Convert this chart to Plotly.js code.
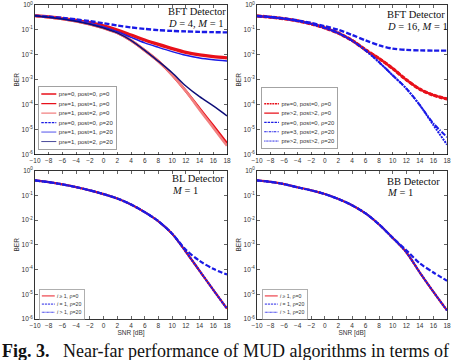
<!DOCTYPE html>
<html>
<head>
<meta charset="utf-8">
<script src="https://cdn.plot.ly/plotly-3.0.1.min.js"></script>
<style>
  html, body { margin: 0; padding: 0; background: #ffffff; }
  #chart { width: 474px; height: 360px; }
</style>
</head>
<body>
<div id="chart"></div>
<script>
// ---------------- data ----------------
var snr = [-10, -8, -6, -4, -2, 0, 2, 4, 6, 8, 10, 12, 14, 16, 18];
var snrTicks = [-10, -8, -6, -4, -2, 0, 2, 4, 6, 8, 10, 12, 14, 16, 18];
var berTickVals = [1e-6, 1e-5, 1e-4, 1e-3, 1e-2, 1e-1, 1];
var berTickText = ['10<sup>-6</sup>', '10<sup>-5</sup>', '10<sup>-4</sup>', '10<sup>-3</sup>', '10<sup>-2</sup>', '10<sup>-1</sup>', '10<sup>0</sup>'];

// Panel 1: BFT detector, D = 4, M = 1
var bft4_pre0_post0_rho0  = [0.372, 0.331, 0.288, 0.240, 0.195, 0.145, 0.100, 0.0631, 0.0398, 0.0263, 0.0178, 0.0126, 0.0100, 0.00851, 0.00759];
var bft4_pre1_post1_rho0  = [0.372, 0.324, 0.275, 0.224, 0.170, 0.120, 0.0759, 0.0380, 0.0151, 0.00550, 0.00158, 3.55e-4, 7.08e-5, 1.41e-5, 2.82e-6];
var bft4_pre1_post2_rho0  = [0.372, 0.324, 0.275, 0.224, 0.170, 0.120, 0.0759, 0.0380, 0.0151, 0.00550, 0.00158, 3.55e-4, 6.31e-5, 1.20e-5, 2.24e-6];
var bft4_pre0_post0_rho20 = [0.372, 0.339, 0.302, 0.263, 0.224, 0.186, 0.151, 0.126, 0.110, 0.0977, 0.0912, 0.0871, 0.0832, 0.0813, 0.0794];
var bft4_pre1_post1_rho20 = [0.372, 0.324, 0.275, 0.229, 0.182, 0.132, 0.0851, 0.0501, 0.0302, 0.0200, 0.0135, 0.00955, 0.00741, 0.00631, 0.00562];
var bft4_pre1_post2_rho20 = [0.372, 0.324, 0.275, 0.224, 0.170, 0.120, 0.0759, 0.0380, 0.0151, 0.00550, 0.00191, 5.62e-4, 2.09e-4, 8.91e-5, 3.55e-5];

// Panel 2: BFT detector, D = 16, M = 1
var bft16_pre0_post0_rho0  = [0.363, 0.324, 0.282, 0.229, 0.174, 0.120, 0.0741, 0.0380, 0.0158, 0.00708, 0.00282, 0.00100, 4.17e-4, 2.40e-4, 1.70e-4];
var bft16_pre2_post2_rho0  = [0.363, 0.324, 0.282, 0.229, 0.174, 0.120, 0.0741, 0.0380, 0.0158, 0.00708, 0.00282, 0.00100, 4.17e-4, 2.40e-4, 1.70e-4];
var bft16_pre0_post0_rho20 = [0.363, 0.331, 0.288, 0.240, 0.191, 0.141, 0.100, 0.0631, 0.0380, 0.0240, 0.0178, 0.0158, 0.0151, 0.0148, 0.0148];
var bft16_pre3_post2_rho20 = [0.363, 0.324, 0.282, 0.229, 0.174, 0.120, 0.0741, 0.0372, 0.0151, 0.00501, 0.00151, 4.47e-4, 9.55e-5, 1.78e-5, 5.01e-6];
var bft16_pre2_post2_rho20 = [0.363, 0.324, 0.282, 0.229, 0.174, 0.120, 0.0741, 0.0372, 0.0151, 0.00501, 0.00151, 4.47e-4, 9.55e-5, 1.51e-5, 2.51e-6];

// Panel 3: BL detector, M = 1
var bl_i_ge1_rho0  = [0.398, 0.339, 0.275, 0.214, 0.158, 0.112, 0.0741, 0.0427, 0.0209, 0.00891, 0.00282, 5.25e-4, 8.91e-5, 1.51e-5, 2.63e-6];
var bl_i_eq1_rho20 = [0.398, 0.339, 0.275, 0.214, 0.158, 0.112, 0.0741, 0.0427, 0.0209, 0.00891, 0.00282, 6.31e-4, 2.24e-4, 1.07e-4, 6.31e-5];
var bl_i_gt1_rho20 = [0.398, 0.339, 0.275, 0.214, 0.158, 0.112, 0.0741, 0.0427, 0.0209, 0.00891, 0.00282, 5.25e-4, 8.91e-5, 1.51e-5, 2.63e-6];

// Panel 4: BB detector, M = 1
var bb_i_ge1_rho0  = [0.398, 0.347, 0.282, 0.209, 0.158, 0.112, 0.0708, 0.0398, 0.0186, 0.00661, 0.00191, 5.01e-4, 7.59e-5, 1.26e-5, 2.24e-6];
var bb_i_eq1_rho20 = [0.398, 0.347, 0.282, 0.209, 0.158, 0.112, 0.0708, 0.0398, 0.0186, 0.00661, 0.00191, 6.03e-4, 1.78e-4, 7.59e-5, 3.55e-5];
var bb_i_gt1_rho20 = [0.398, 0.347, 0.282, 0.209, 0.158, 0.112, 0.0708, 0.0398, 0.0186, 0.00661, 0.00191, 5.01e-4, 7.59e-5, 1.26e-5, 2.24e-6];

// ---------------- styles ----------------
var RED = '#e8101a', LRED = '#f28080', BLUE = '#1a1ae6', NAVY = '#0d0d78';
var SANS = 'Liberation Sans, Arial, sans-serif';
var SERIF = 'Liberation Serif, Times New Roman, serif';

function tr(y, name, xa, ya, leg, color, width, dash) {
  return {
    x: snr, y: y, name: name, xaxis: xa, yaxis: ya, legend: leg,
    type: 'scatter', mode: 'lines',
    line: {color: color, width: width, dash: dash || 'solid', shape: 'spline', smoothing: 0.8}
  };
}

var rho = '\u03c1';
var traces = [
  tr(bft4_pre0_post0_rho0,  'pre=0, post=0, ' + rho + '=0',  'x', 'y', 'legend', RED, 3.2),
  tr(bft4_pre1_post1_rho0,  'pre=1, post=1, ' + rho + '=0',  'x', 'y', 'legend', RED, 2.6),
  tr(bft4_pre1_post2_rho0,  'pre=1, post=2, ' + rho + '=0',  'x', 'y', 'legend', LRED, 2.6),
  tr(bft4_pre0_post0_rho20, 'pre=0, post=0, ' + rho + '=20', 'x', 'y', 'legend', BLUE, 2.4, '5px,2px'),
  tr(bft4_pre1_post1_rho20, 'pre=1, post=1, ' + rho + '=20', 'x', 'y', 'legend', BLUE, 1.5),
  tr(bft4_pre1_post2_rho20, 'pre=1, post=2, ' + rho + '=20', 'x', 'y', 'legend', NAVY, 1.5),

  tr(bft16_pre0_post0_rho0,  'pre=0, post=0, ' + rho + '=0',  'x2', 'y2', 'legend2', RED, 3.2, '4px,1.5px'),
  tr(bft16_pre2_post2_rho0,  'pre>2, post>2, ' + rho + '=0',  'x2', 'y2', 'legend2', RED, 2.4),
  tr(bft16_pre0_post0_rho20, 'pre=0, post=0, ' + rho + '=20', 'x2', 'y2', 'legend2', BLUE, 2.4, '5px,2px'),
  tr(bft16_pre3_post2_rho20, 'pre=3, post=2, ' + rho + '=20', 'x2', 'y2', 'legend2', BLUE, 2.0, '5px,1.5px,1.5px,1.5px'),
  tr(bft16_pre2_post2_rho20, 'pre>2, post>2, ' + rho + '=20', 'x2', 'y2', 'legend2', BLUE, 2.0, '2px,1px'),

  tr(bl_i_ge1_rho0,  '<i>i</i> \u2265 1, ' + rho + '=0',  'x3', 'y3', 'legend3', RED, 2.2),
  tr(bl_i_eq1_rho20, '<i>i</i> = 1, ' + rho + '=20', 'x3', 'y3', 'legend3', BLUE, 2.2, '5px,2px'),
  tr(bl_i_gt1_rho20, '<i>i</i> > 1, ' + rho + '=20', 'x3', 'y3', 'legend3', BLUE, 2.2, '2px,1px'),

  tr(bb_i_ge1_rho0,  '<i>i</i> \u2265 1, ' + rho + '=0',  'x4', 'y4', 'legend4', RED, 2.2),
  tr(bb_i_eq1_rho20, '<i>i</i> = 1, ' + rho + '=20', 'x4', 'y4', 'legend4', BLUE, 2.2, '5px,2px'),
  tr(bb_i_gt1_rho20, '<i>i</i> > 1, ' + rho + '=20', 'x4', 'y4', 'legend4', BLUE, 2.2, '2px,1px')
];

var W = 474, H = 360;
function px(x) { return x / W; }
function py(y) { return 1 - y / H; }

function xax(dom, anchor, showTitle) {
  var a = {
    domain: dom, anchor: anchor, range: [-10, 18],
    tickmode: 'array', tickvals: snrTicks,
    ticks: 'inside', ticklen: 3, tickwidth: 0.6, tickcolor: '#000',
    showline: true, linecolor: '#000', linewidth: 0.8, mirror: 'ticks',
    showgrid: false, zeroline: false,
    tickfont: {family: SANS, size: 6.5, color: '#333'}
  };
  if (showTitle) {
    a.title = {text: 'SNR [dB]', font: {family: SANS, size: 6.5, color: '#333'}, standoff: 2};
  }
  return a;
}
function yax(dom, anchor) {
  return {
    domain: dom, anchor: anchor, type: 'log', range: [-6, 0],
    tickmode: 'array', tickvals: berTickVals, ticktext: berTickText,
    ticks: 'inside', ticklen: 3, tickwidth: 0.6, tickcolor: '#000',
    showline: true, linecolor: '#000', linewidth: 0.8, mirror: 'ticks',
    showgrid: false, zeroline: false,
    tickfont: {family: SANS, size: 6.5, color: '#333'},
    title: {text: 'BER', font: {family: SANS, size: 6.5, color: '#333'}, standoff: 1}
  };
}

var xL = [px(35), px(227)], xR = [px(257), px(447)];
var yT = [py(155), py(5)], yB = [py(320), py(171)];

function legendBox(x, y) {
  return {
    x: x, y: y, xanchor: 'left', yanchor: 'top',
    bgcolor: '#ffffff', bordercolor: '#8a8a8a', borderwidth: 1.6,
    font: {family: SANS, size: 12, color: '#333'},
    tracegroupgap: 0, itemclick: false, itemdoubleclick: false
  };
}

function label(text, x, y, size) {
  return {
    text: text, xref: 'paper', yref: 'paper', x: px(x), y: py(y),
    xanchor: 'left', yanchor: 'middle', showarrow: false, align: 'left',
    font: {family: SERIF, size: size || 10.5, color: '#111'}
  };
}

var layout = {
  width: W, height: H,
  margin: {l: 0, r: 0, t: 0, b: 0},
  paper_bgcolor: '#ffffff', plot_bgcolor: '#ffffff',
  showlegend: true,
  xaxis: xax(xL, 'y', false),  yaxis: yax(yT, 'x'),
  xaxis2: xax(xR, 'y2', false), yaxis2: yax(yT, 'x2'),
  xaxis3: xax(xL, 'y3', true),  yaxis3: yax(yB, 'x3'),
  xaxis4: xax(xR, 'y4', true),  yaxis4: yax(yB, 'x4'),
  legend: legendBox(px(38), py(86)),
  legend2: Object.assign(legendBox(px(261), py(87)), {title: {text: ' ', font: {family: SANS, size: 14}}}),
  legend3: legendBox(px(39), py(290)),
  legend4: legendBox(px(262), py(290)),
  annotations: [
    label('BFT Detector', 166, 12),
    label('<i>D</i> = 4, <i>M</i> = 1', 166, 24),
    label('BFT Detector', 385, 15),
    label('<i>D</i> = 16, <i>M</i> = 1', 385, 27),
    label('BL Detector', 170, 179),
    label('<i>M</i> = 1', 170, 191),
    label('BB Detector', 385, 182),
    label('<i>M</i> = 1', 385, 193),
    {
      text: '<b>Fig. 3.</b>\u00a0\u00a0\u00a0Near-far performance of MUD algorithms in terms of',
      xref: 'paper', yref: 'paper', x: 0, y: py(352),
      xanchor: 'left', yanchor: 'middle', showarrow: false, align: 'left',
      font: {family: SERIF, size: 18, color: '#111'}
    }
  ]
};

var legendScale = {legend: 0.5, legend2: 0.49, legend3: 0.43, legend4: 0.43};

Plotly.newPlot('chart', traces, layout, {staticPlot: true, displayModeBar: false}).then(function (gd) {
  Object.keys(legendScale).forEach(function (k) {
    var g = gd.querySelector('g.' + k);
    if (g) {
      var t = g.getAttribute('transform') || '';
      g.setAttribute('transform', t + ' scale(' + legendScale[k] + ')');
    }
  });
});
</script>
</body>
</html>
